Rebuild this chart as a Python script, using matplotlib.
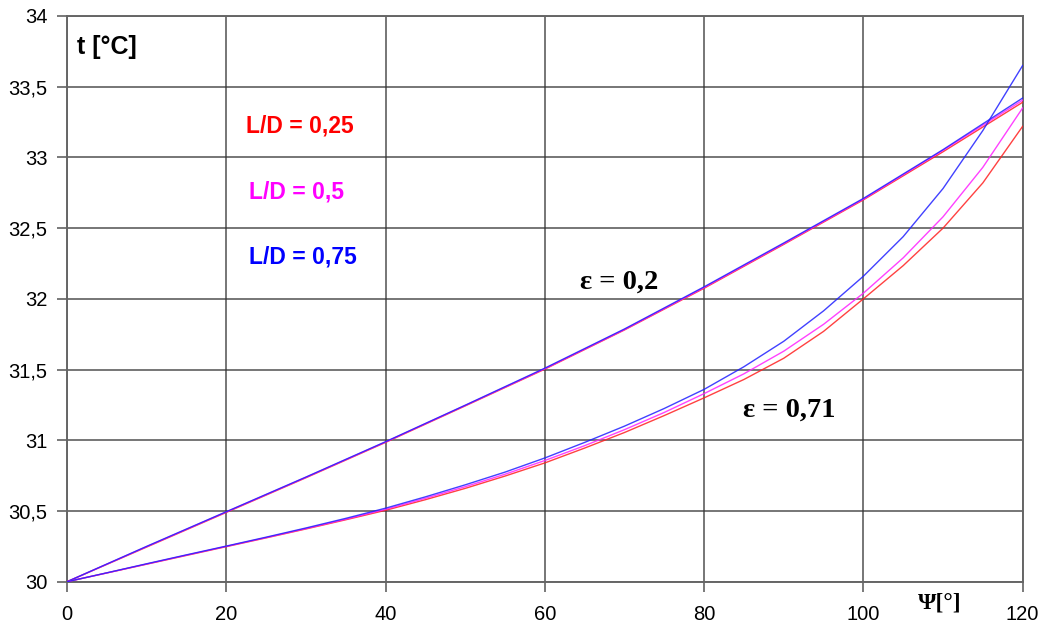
import matplotlib
matplotlib.use("Agg")
import matplotlib.pyplot as plt

# bearing angle psi [deg] and oil film temperature t [C]
psi_upper = [0, 10, 20, 30, 40, 50, 60, 70, 80, 90, 100, 110, 120]
psi_lower = [0, 5, 10, 15, 20, 25, 30, 35, 40, 45, 50, 55, 60, 65, 70, 75, 80,
             85, 90, 95, 100, 105, 110, 115, 120]

# eps = 0.2
t_02_025 = [30, 30.245, 30.49, 30.735, 30.985, 31.243, 31.503, 31.78, 32.075, 32.385, 32.70, 33.04, 33.39]
t_02_05 = [30, 30.248, 30.493, 30.738, 30.988, 31.246, 31.506, 31.783, 32.080, 32.390, 32.705, 33.05, 33.405]
t_02_075 = [30, 30.25, 30.495, 30.74, 30.99, 31.248, 31.51, 31.787, 32.085, 32.395, 32.71, 33.055, 33.42]

# eps = 0.71
t_071_025 = [30, 30.062, 30.124, 30.186, 30.248, 30.31, 30.373, 30.438, 30.505, 30.58, 30.66,
             30.747, 30.84, 30.945, 31.055, 31.175, 31.30, 31.43, 31.58, 31.77, 32.0, 32.235,
             32.50, 32.82, 33.22]
t_071_05 = [30, 30.062, 30.125, 30.188, 30.25, 30.312, 30.376, 30.442, 30.512, 30.59, 30.672,
            30.76, 30.857, 30.962, 31.075, 31.197, 31.33, 31.47, 31.63, 31.82, 32.04, 32.29,
            32.58, 32.93, 33.35]
t_071_075 = [30, 30.063, 30.127, 30.19, 30.252, 30.315, 30.38, 30.448, 30.52, 30.60, 30.685,
             30.775, 30.875, 30.985, 31.10, 31.225, 31.36, 31.52, 31.70, 31.915, 32.16, 32.44,
             32.78, 33.19, 33.65]

x_ticks = [0, 20, 40, 60, 80, 100, 120]
y_ticks = [30, 30.5, 31, 31.5, 32, 32.5, 33, 33.5, 34]
y_labels = ["30", "30,5", "31", "31,5", "32", "32,5", "33", "33,5", "34"]

red, magenta, blue = "#ff2020", "#ff20ff", "#2020ff"

plt.rcParams["font.family"] = ["Liberation Sans", "DejaVu Sans"]

fig = plt.figure(figsize=(10.43, 6.27), dpi=100)
ax = fig.add_axes([0.0642, 0.0722, 0.9163, 0.9023])

for x, y, c in [(psi_upper, t_02_025, red), (psi_upper, t_02_05, magenta),
                (psi_upper, t_02_075, blue), (psi_lower, t_071_025, red),
                (psi_lower, t_071_05, magenta), (psi_lower, t_071_075, blue)]:
    ax.plot(x, y, color=c, lw=1.0, alpha=0.85, zorder=3)

ax.set_xlim(0, 120)
ax.set_ylim(30, 34)
ax.set_xticks(x_ticks)
ax.set_yticks(y_ticks)
ax.set_yticklabels(y_labels)
ax.tick_params(labelsize=14.5, length=7, width=1.1, color="#555555", direction="out")
ax.tick_params(axis="x", pad=10)
ax.tick_params(axis="y", pad=7)
ax.grid(True, color="#333333", lw=1.1, alpha=0.85)
ax.set_axisbelow(True)
for s in ax.spines.values():
    s.set_color("#666666")
    s.set_linewidth(1.4)

ax.text(1.2, 33.78, "t [°C]", fontsize=18, fontweight="bold", va="center")
ax.text(22.5, 33.224, "L/D = 0,25", color="#ff0000", fontsize=16.5, fontweight="bold", va="center")
ax.text(22.9, 32.758, "L/D = 0,5", color="#ff00ff", fontsize=16.5, fontweight="bold", va="center")
ax.text(22.9, 32.298, "L/D = 0,75", color="#0000ff", fontsize=16.5, fontweight="bold", va="center")

serif = ["Liberation Serif", "DejaVu Serif"]
ax.text(64.4, 32.121, "ε = 0,2", family=serif, fontsize=20.5, fontweight="bold", va="center")
ax.text(84.9, 31.214, "ε = 0,71", family=serif, fontsize=20.5, fontweight="bold", va="center")
ax.text(106.9, 29.85, "Ψ[°]", family=serif, fontsize=17, fontweight="bold", va="center", clip_on=False)

fig.savefig("out.png", dpi=100, facecolor="white")
